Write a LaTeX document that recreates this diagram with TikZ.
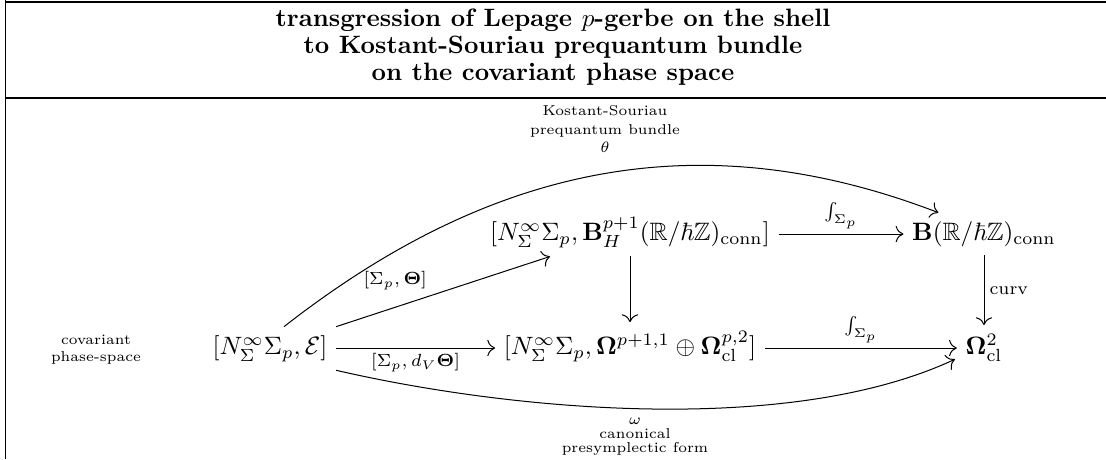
\documentclass[tikz,border=0pt]{standalone}
\usepackage{amsmath,amssymb}
\usetikzlibrary{arrows.meta,calc}
\begin{document}
\begin{tikzpicture}[x=0.398pt,y=-0.398pt,
  mathnode/.style={inner sep=3.3pt, anchor=base},
  ar/.style={-{Computer Modern Rightarrow[scale=1.25]}, line width=0.4pt},
  lbl/.style={font=\scriptsize, inner sep=2pt},
  smalltext/.style={font=\fontsize{5.7}{6.4}\selectfont, align=center, inner sep=0pt},
  rule/.style={line width=0.6pt}
]
\useasboundingbox (0,0) rectangle (1106,459);
% table rules
\draw[rule] (5,2) -- (1106,2);
\draw[rule] (5,98) -- (1106,98);
\draw[rule] (5.5,0) -- (5.5,459);
% title
\node[font=\bfseries\fontsize{10}{10.7}\selectfont, align=center, inner sep=0pt] (title) at (553,47)
  {transgression of Lepage $p$-gerbe on the shell\\ to Kostant-Souriau prequantum bundle\\ on the covariant phase space};
% nodes
\node[smalltext, font=\fontsize{5.7}{6.7}\selectfont] (cov) at (96,350) {covariant\\phase-space};
\node[mathnode] (E) at (270,354.3) {$[N^\infty_\Sigma\Sigma_p,\mathcal{E}]$};
\node[mathnode] (H) at (630,240.3) {$[N^\infty_\Sigma\Sigma_p,\mathbf{B}^{p+1}_H(\mathbb{R}/\hbar\mathbb{Z})_{\mathrm{conn}}]$};
\node[mathnode] (B) at (984,240.3) {$\mathbf{B}(\mathbb{R}/\hbar\mathbb{Z})_{\mathrm{conn}}$};
\node[mathnode] (Om) at (630,354.3) {$[N^\infty_\Sigma\Sigma_p,\mathbf{\Omega}^{p+1,1}\oplus\mathbf{\Omega}^{p,2}_{\mathrm{cl}}]$};
\node[mathnode] (Om2) at (984,354.3) {$\mathbf{\Omega}^2_{\mathrm{cl}}$};
% labels of curves
\node[smalltext, font=\fontsize{5.7}{7.4}\selectfont] (ks) at (605,129) {Kostant-Souriau\\prequantum bundle\\$\theta$};
\node[smalltext, font=\fontsize{5.7}{5.6}\selectfont] (om) at (635,437) {$\omega$\\canonical\\presymplectic form};
% arrows
\draw[ar] ([yshift=2.5pt]E.base east) -- node[lbl, below] {$[\Sigma_p,d_V\mathbf{\Theta}]$} ([yshift=2.5pt]Om.base west);
\draw[ar] (E.north east) -- node[lbl, above left, pos=0.45] {$[\Sigma_p,\mathbf{\Theta}]$} ($(H.south)+(-80,0)$);
\draw[ar] ([yshift=2.5pt]H.base east) -- node[lbl, above] {$\int_{\Sigma_p}$} ([yshift=2.5pt]B.base west);
\draw[ar] ([yshift=2.5pt]Om.base east) -- node[lbl, above] {$\int_{\Sigma_p}$} ([yshift=2.5pt]Om2.base west);
\draw[ar] (H.south) -- (H.south |- Om.north);
\draw[ar] (B.south) -- node[lbl, right] {curv} (B.south |- Om2.north);
\draw[ar] ($(E.north)+(14,0)$) to[out=38, in=159, looseness=1] ($(B.north west)+(35,0)$);
\draw[ar] (E.south east) to[out=-13, in=-155, looseness=0.75] ($(Om2.base west)+(-2,5)$);
\end{tikzpicture}
\end{document}
